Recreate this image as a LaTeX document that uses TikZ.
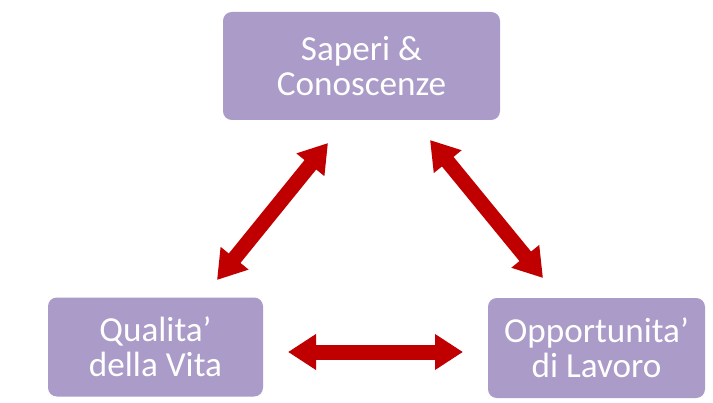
\documentclass[tikz,border=0pt]{standalone}
\usepackage{fontspec}
\setmainfont{Carlito}
\usetikzlibrary{arrows.meta}
\definecolor{boxlilla}{RGB}{170,155,200}
\definecolor{frecciarossa}{RGB}{192,0,0}
\begin{document}
\begin{tikzpicture}[
  scatola/.style={fill=boxlilla, rounded corners=5pt, align=center, text=white,
    font=\fontsize{20}{20}\selectfont, inner sep=0pt},
  freccia/.style={draw=frecciarossa, line width=0.3cm,
    {Triangle[length=0.56cm,width=0.68cm]}-{Triangle[length=0.56cm,width=0.68cm]}}]
\useasboundingbox (0,0) rectangle (14.26,-8.06);
\node[scatola, minimum width=5.54cm, minimum height=2.16cm] (saperi) at (7.23,-1.32) {Saperi \&\\Conoscenze};
\node[scatola, minimum width=4.30cm, minimum height=1.98cm] (qualita) at (3.11,-6.94) {Qualita’\\della Vita};
\node[scatola, minimum width=4.34cm, minimum height=2.00cm] (lavoro) at (11.93,-6.96) {Opportunita’\\di Lavoro};
% estremi delle frecce
\coordinate (q1) at (4.34,-5.60);
\coordinate (s1) at (6.56,-2.86);
\coordinate (s2) at (8.60,-2.80);
\coordinate (l1) at (10.86,-5.56);
\coordinate (q2) at (5.76,-7.04);
\coordinate (l2) at (9.26,-7.04);
\draw[freccia] (q1) -- (s1);
\draw[freccia] (s2) -- (l1);
\draw[freccia] (q2) -- (l2);
\end{tikzpicture}
\end{document}
